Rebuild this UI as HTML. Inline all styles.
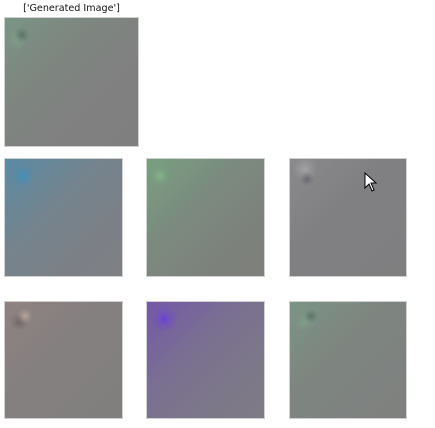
<!DOCTYPE html>
<html><head><meta charset="utf-8"><style>
body{margin:0;width:435px;height:428px;background:#fff;position:relative;overflow:hidden;font-family:"DejaVu Sans","Liberation Sans",sans-serif}
.im{position:absolute;box-sizing:border-box;border:1px solid #d0d0d0}
#title{position:absolute;left:4px;width:135px;top:3px;text-align:center;font-size:9.6px;color:#111}
</style></head><body>
<div id="title">['Generated Image']</div>
<div class="im" style="left:4px;top:17px;width:135px;height:130px;background:radial-gradient(circle at 17px 17px,rgba(78,106,92,.8) 0,rgba(80,110,95,.35) 4px,transparent 8px),radial-gradient(circle at 12px 22px,rgba(130,165,140,.6) 0,transparent 10px),linear-gradient(135deg,#7a9585 0%,#7e8580 35%,#808080 70%,#7f7f7f 100%)"></div>
<div class="im" style="left:4px;top:158px;width:119px;height:119px;background:radial-gradient(circle at 18px 17px,rgba(58,148,192,.8) 0,rgba(60,145,190,.4) 5px,transparent 11px),linear-gradient(135deg,#5a8aa6 0%,#74848e 40%,#7c8086 75%,#7e8084 100%)"></div>
<div class="im" style="left:146px;top:158px;width:119px;height:119px;background:radial-gradient(circle at 13px 17px,rgba(138,184,144,.8) 0,rgba(130,175,135,.4) 5px,transparent 10px),linear-gradient(135deg,#78a080 0%,#7b8a7f 40%,#7d817c 75%,#7e807c 100%)"></div>
<div class="im" style="left:289px;top:158px;width:118px;height:119px;background:radial-gradient(circle at 17px 20px,rgba(95,95,106,.8) 0,rgba(95,95,106,.4) 3px,transparent 7px),radial-gradient(circle at 15px 10px,rgba(170,170,170,.8) 0,rgba(170,170,170,.35) 6px,transparent 12px),linear-gradient(135deg,#8a8a8c 0%,#808083 40%,#7f7f80 100%)"></div>
<div class="im" style="left:4px;top:301px;width:119px;height:118px;background:radial-gradient(circle at 20px 14px,rgba(200,184,168,.7) 0,rgba(200,180,165,.3) 4px,transparent 8px),radial-gradient(circle at 14px 20px,rgba(106,90,96,.7) 0,rgba(110,90,95,.3) 5px,transparent 9px),linear-gradient(135deg,#8f8280 0%,#858080 40%,#807f7e 100%)"></div>
<div class="im" style="left:146px;top:301px;width:119px;height:118px;background:radial-gradient(circle at 17px 17px,rgba(106,60,224,.85) 0,rgba(110,70,210,.45) 6px,transparent 13px),linear-gradient(135deg,#7458a8 0%,#7a7092 40%,#7d7888 75%,#7e7a86 100%)"></div>
<div class="im" style="left:289px;top:301px;width:118px;height:118px;background:radial-gradient(circle at 21px 14px,rgba(78,106,92,.7) 0,rgba(80,110,95,.3) 4px,transparent 7px),radial-gradient(circle at 14px 20px,rgba(130,165,140,.6) 0,transparent 9px),linear-gradient(135deg,#7a9585 0%,#7e8580 40%,#7f807f 100%)"></div>
<svg style="position:absolute;left:364px;top:172px" width="14" height="20" viewBox="0 0 14 20"><path d="M1 1 L1 16 L5 12 L8 19 L10 18 L7 11 L12 11 Z" fill="#fff" stroke="#000" stroke-width="1"/></svg>
</body></html>
